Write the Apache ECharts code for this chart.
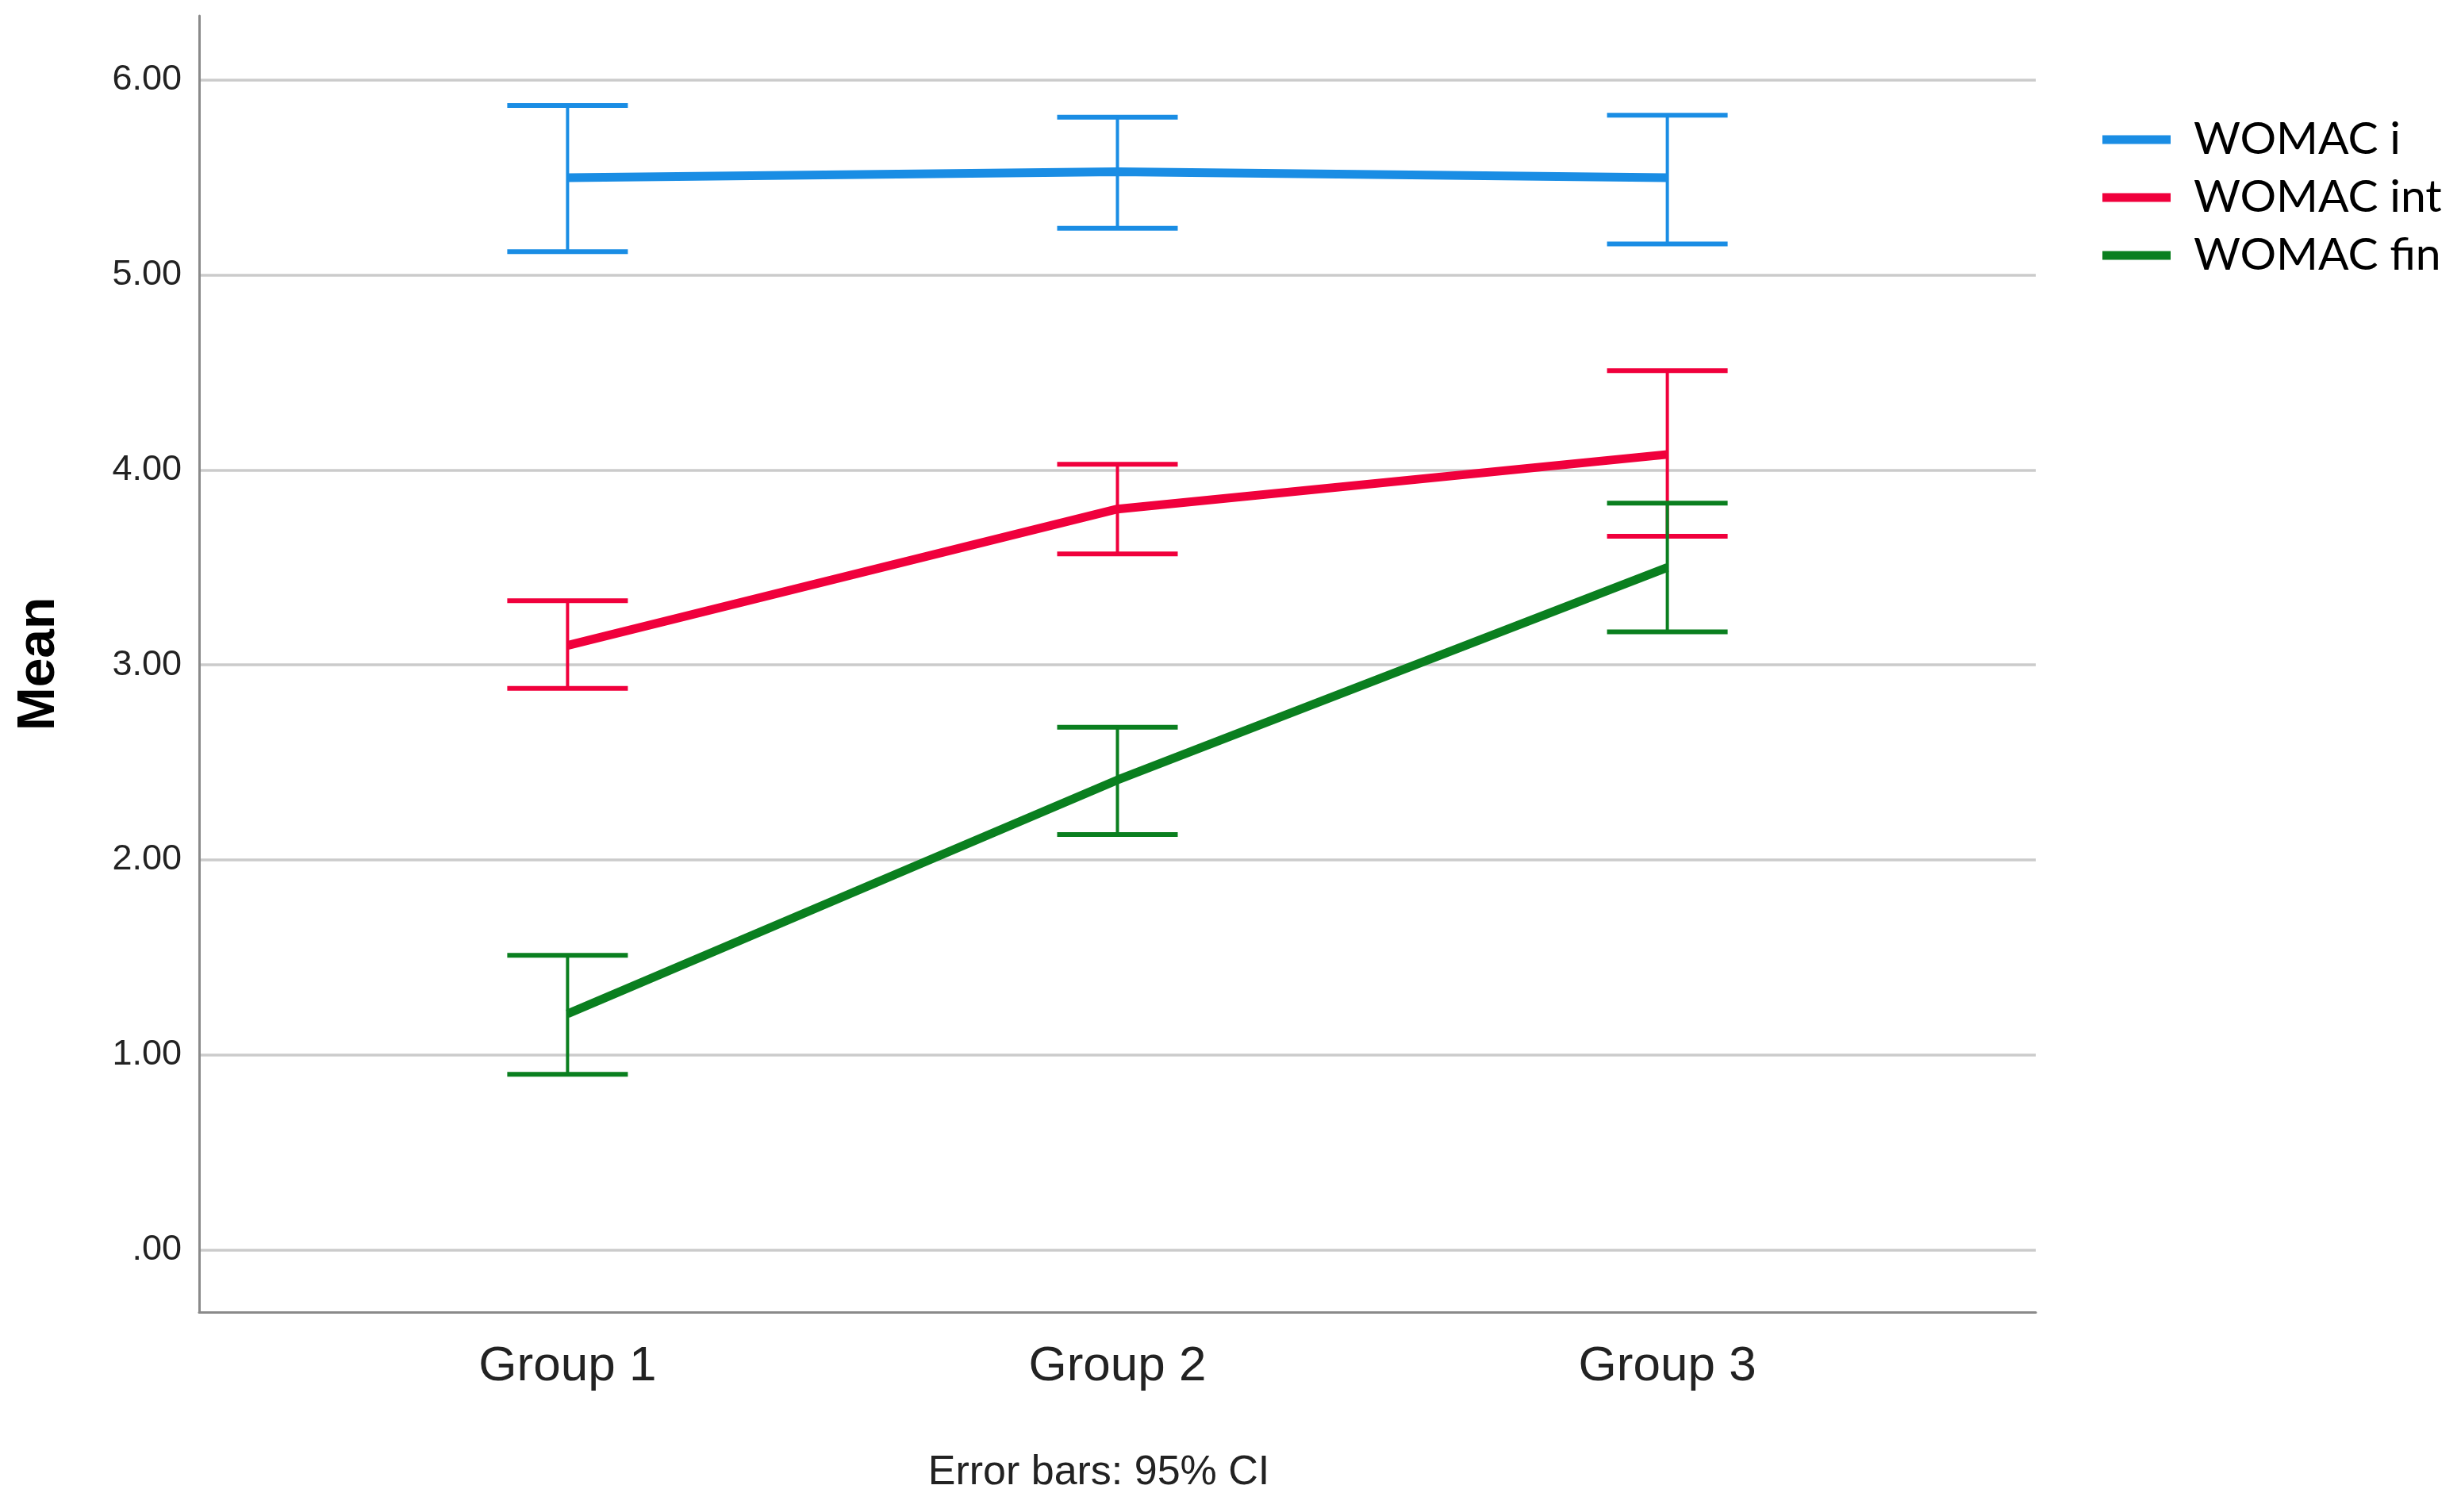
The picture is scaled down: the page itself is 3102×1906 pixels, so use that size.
<!DOCTYPE html>
<html><head><meta charset="utf-8">
<script src="https://cdn.jsdelivr.net/npm/echarts@6/dist/echarts.min.js"></script>
<style>html,body{margin:0;padding:0;background:#fff}#c{width:3102px;height:1906px}</style>
</head><body><div id="c"></div><script>
const categories = ['Group 1', 'Group 2', 'Group 3'];
const seriesNames = ['WOMAC i', 'WOMAC int', 'WOMAC fin'];
const meanI = [5.50, 5.53, 5.50];
const lowI = [5.12, 5.24, 5.16];
const highI = [5.87, 5.81, 5.82];
const meanInt = [3.10, 3.80, 4.08];
const lowInt = [2.88, 3.57, 3.66];
const highInt = [3.33, 4.03, 4.51];
const meanFin = [1.21, 2.41, 3.50];
const lowFin = [0.90, 2.13, 3.17];
const highFin = [1.51, 2.68, 3.83];
const yTicks = [0, 1, 2, 3, 4, 5, 6];
const xTicks = [1, 2, 3];
const footnote = 'Error bars: 95% CI';
const colors = ['#1a8de4', '#f0003c', '#0a7f1f'];

const means = [meanI, meanInt, meanFin];
const lows = [lowI, lowInt, lowFin];
const highs = [highI, highInt, highFin];

function errRenderer(color) {
  return function (params, api) {
    const x = api.value(0), lo = api.value(1), hi = api.value(2);
    const pLo = api.coord([x, lo]), pHi = api.coord([x, hi]);
    const half = 76;
    return {
      type: 'group', children: [
        { type: 'line', shape: { x1: pLo[0], y1: pLo[1], x2: pHi[0], y2: pHi[1] }, style: { stroke: color, lineWidth: 4 } },
        { type: 'line', shape: { x1: pLo[0] - half, y1: pLo[1], x2: pLo[0] + half, y2: pLo[1] }, style: { stroke: color, lineWidth: 6 } },
        { type: 'line', shape: { x1: pHi[0] - half, y1: pHi[1], x2: pHi[0] + half, y2: pHi[1] }, style: { stroke: color, lineWidth: 6 } }
      ]
    };
  };
}

const series = [];
seriesNames.forEach((name, i) => {
  series.push({
    name: name + ' CI', type: 'custom', renderItem: errRenderer(colors[i]),
    encode: { x: 0, y: [1, 2] }, silent: true, z: 2,
    data: categories.map((c, j) => [j + 1, lows[i][j], highs[i][j]])
  });
});
seriesNames.forEach((name, i) => {
  series.push({
    name: name, type: 'line', symbol: 'none', z: 3,
    lineStyle: { color: colors[i], width: 11 }, itemStyle: { color: colors[i] },
    data: categories.map((c, j) => [j + 1, means[i][j]])
  });
});

const chart = echarts.init(document.getElementById('c'));
chart.setOption({
  animation: false,
  backgroundColor: '#ffffff',
  grid: { left: 251, right: 536, top: 20, bottom: 252, containLabel: false, outerBoundsMode: 'none' },
  xAxis: {
    type: 'value', min: 0.33, max: 3.67,
    axisLine: { onZero: false, lineStyle: { color: '#8a8a8a', width: 3 } },
    axisTick: { show: false, customValues: xTicks },
    splitLine: { show: false },
    axisLabel: {
      customValues: xTicks, margin: 38,
      formatter: v => categories[Math.round(v) - 1],
      fontFamily: 'Liberation Sans', fontSize: 62, color: '#222'
    }
  },
  yAxis: {
    type: 'value', min: -0.32, max: 6.33,
    name: 'Mean', nameLocation: 'middle', nameGap: 168, nameRotate: 90,
    nameTextStyle: { fontFamily: 'Liberation Sans', fontSize: 66, fontWeight: 'bold', color: '#000' },
    axisLine: { show: true, onZero: false, lineStyle: { color: '#8a8a8a', width: 3 } },
    axisTick: { show: false, customValues: yTicks },
    splitLine: { show: true, lineStyle: { color: '#cbcbcb', width: 3.5 } },
    axisLabel: {
      customValues: yTicks, margin: 22,
      formatter: v => v === 0 ? '.00' : v.toFixed(2),
      fontFamily: 'Liberation Sans', fontSize: 45, color: '#222'
    }
  },
  legend: {
    orient: 'vertical', left: 2645, top: 141, icon: 'rect',
    itemWidth: 86, itemHeight: 11, itemGap: 13,
    data: seriesNames,
    textStyle: { fontFamily: 'Lato', fontSize: 57, color: '#000', lineHeight: 60, padding: [0, 0, 0, 24] }
  },
  graphic: [{
    type: 'text', x: 1385, y: 1857,
    style: { text: footnote, textAlign: 'center', textVerticalAlign: 'middle', font: '52px "Liberation Sans"', fill: '#222' }
  }],
  series: series
});
</script></body></html>
